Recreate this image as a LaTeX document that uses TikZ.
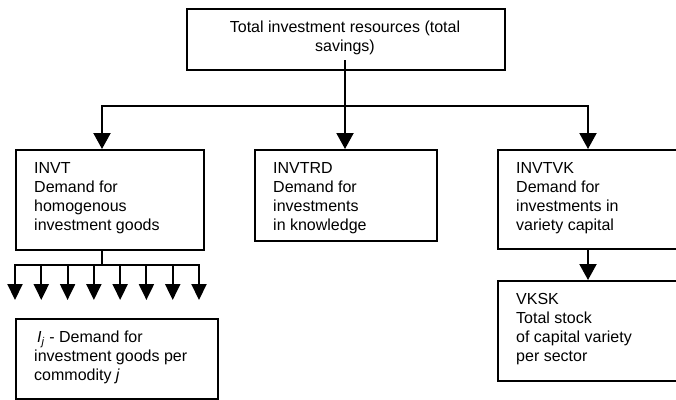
\documentclass[tikz,border=0pt]{standalone}
\usepackage{fontspec}
\setmainfont{Liberation Sans}
\usetikzlibrary{arrows.meta}
\newcommand{\lnstrut}{\rule{0pt}{14pt}}
\begin{document}
\begin{tikzpicture}[x=1pt,y=-1pt,
  box/.style={draw,line width=1.7pt,inner sep=0pt,anchor=north west},
  txt/.style={inner sep=0pt,anchor=north west,align=left,font=\fontsize{16}{19}\selectfont},
  conn/.style={line width=2.1pt},
  arr/.style={conn,-{Triangle[width=17pt,length=16pt]}},
  farr/.style={conn,-{Triangle[width=15pt,length=16pt]}},
]
\useasboundingbox (0,0) rectangle (676,399);
\clip (0,0) rectangle (676,399);

% boxes
\node[box,minimum width=318pt,minimum height=61pt] (total) at (186,8) {};
\node[box,minimum width=188pt,minimum height=100pt] (invt) at (15,149) {};
\node[box,minimum width=182pt,minimum height=91pt] (invtrd) at (254,149) {};
\node[box,minimum width=220pt,minimum height=99pt] (invtvk) at (497,149) {};
\node[box,minimum width=220pt,minimum height=100pt] (vksk) at (497,280) {};
\node[box,minimum width=202pt,minimum height=80pt] (ij) at (15,318) {};

% texts
\node[txt,anchor=north,align=center] (ttotal) at (345,18.5) {\lnstrut Total investment resources (total\\savings)};
\node[txt] (tinvt) at (34,159.5) {\lnstrut INVT\\Demand for\\homogenous\\investment goods};
\node[txt] (tinvtrd) at (273,159.5) {\lnstrut INVTRD\\Demand for\\investments\\in knowledge};
\node[txt] (tinvtvk) at (516,159.5) {\lnstrut INVTVK\\Demand for\\investments in\\variety capital};
\node[txt] (tvksk) at (516,290.5) {\lnstrut VKSK\\Total stock\\of capital variety\\per sector};
\node[txt] (tij) at (34,328.5) {\lnstrut\hspace{3pt}\textit{I}\textsubscript{\textit{j}} - Demand for\\investment goods per\\commodity \textit{j}};

% connectors from top box
\coordinate (stem) at (345,60);
\coordinate (split) at (345,106);
\draw[arr] (stem) -- ([xshift=91pt]invtrd.north west);
\draw[arr] (split) -| ([xshift=87pt]invt.north west);
\draw[arr] (split) -| ([xshift=91pt]invtvk.north west);

% INVTVK to VKSK
\draw[arr] ([xshift=91pt]invtvk.south west) -- ([xshift=91pt]vksk.north west);

% fan below INVT
\coordinate (fan) at (102,265);
\draw[conn] ([xshift=87pt]invt.south west) -- (fan);
\coordinate (fanl) at (14,265);
\coordinate (fanr) at (200,265);
\draw[conn] (fanl) -- (fanr);
\foreach \i in {0,...,7} {
  \coordinate (fs\i) at ({15+\i*26.2857},265);
  \coordinate (fe\i) at ({15+\i*26.2857},300);
  \draw[farr] (fs\i) -- (fe\i);
}
\end{tikzpicture}
\end{document}
